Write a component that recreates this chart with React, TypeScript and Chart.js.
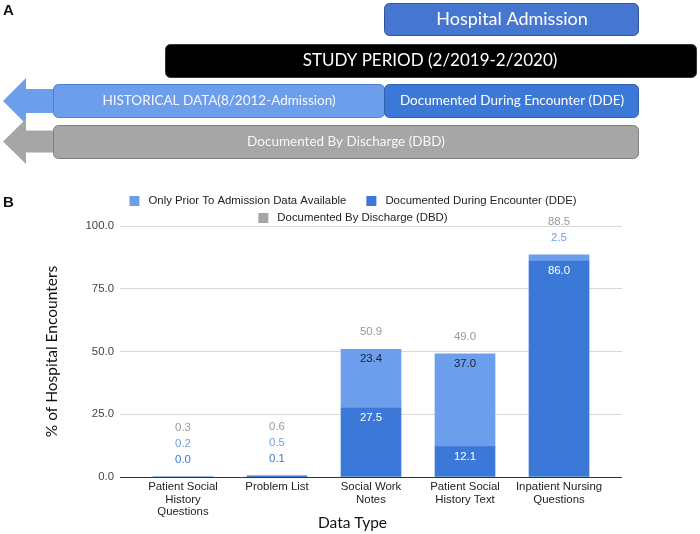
import { useEffect, useRef } from 'react';
import { Chart, registerables } from 'chart.js';

Chart.register(...registerables);

// ---------- data ----------
const categories: string[][] = [
  ['Patient Social', 'History', 'Questions'],
  ['Problem List'],
  ['Social Work', 'Notes'],
  ['Patient Social', 'History Text'],
  ['Inpatient Nursing', 'Questions'],
];
const ddeValues = [0.0, 0.1, 27.5, 12.1, 86.0];
const priorValues = [0.2, 0.5, 23.4, 37.0, 2.5];
const dbdValues = [0.3, 0.6, 50.9, 49.0, 88.5];
const yTickValues = [0, 25, 50, 75, 100];
const seriesNames = [
  'Only Prior To Admission Data Available',
  'Documented During Encounter (DDE)',
  'Documented By Discharge (DBD)',
];
const seriesColors = ['#6d9eeb', '#3c78d8', '#a5a5a5'];
const xAxisTitle = 'Data Type';
const yAxisTitle = '% of Hospital Encounters';

const GOOGLE_FONT = '"Liberation Sans", Arial, sans-serif';
const DIAGRAM_FONT = 'Lato, "Open Sans", sans-serif';
const SMALL = 11.4;

function roundBox(ctx: CanvasRenderingContext2D, x: number, y: number, w: number, h: number, r: number, fill: string, stroke: string) {
  ctx.beginPath();
  (ctx as any).roundRect(x, y, w, h, r);
  ctx.fillStyle = fill;
  ctx.fill();
  ctx.lineWidth = 1;
  ctx.strokeStyle = stroke;
  ctx.stroke();
}

function leftArrow(ctx: CanvasRenderingContext2D, tipX: number, cy: number, backX: number, headHalf: number, shaftHalf: number, shaftEnd: number, fill: string) {
  ctx.beginPath();
  ctx.moveTo(tipX, cy);
  ctx.lineTo(backX, cy - headHalf);
  ctx.lineTo(backX, cy - shaftHalf);
  ctx.lineTo(shaftEnd, cy - shaftHalf);
  ctx.lineTo(shaftEnd, cy + shaftHalf);
  ctx.lineTo(backX, cy + shaftHalf);
  ctx.lineTo(backX, cy + headHalf);
  ctx.closePath();
  ctx.fillStyle = fill;
  ctx.fill();
}

function centerText(ctx: CanvasRenderingContext2D, text: string, x: number, y: number, font: string, color: string) {
  ctx.font = font;
  ctx.fillStyle = color;
  ctx.textAlign = 'center';
  ctx.textBaseline = 'middle';
  ctx.fillText(text, x, y);
}

const panelAPlugin = {
  id: 'panelA',
  beforeDraw(chart: any) {
    const ctx: CanvasRenderingContext2D = chart.ctx;
    ctx.save();
    ctx.font = `bold 15px ${GOOGLE_FONT}`;
    ctx.fillStyle = '#111';
    ctx.textAlign = 'left';
    ctx.textBaseline = 'middle';
    ctx.fillText('A', 3, 11);
    ctx.fillText('B', 3, 203);

    roundBox(ctx, 384.5, 3.5, 254, 32, 5, '#4677d0', '#2f5597');
    centerText(ctx, 'Hospital Admission', 512, 19.5, `18px ${DIAGRAM_FONT}`, '#ffffff');

    roundBox(ctx, 165.5, 44.5, 531, 33, 5, '#000000', '#333333');
    centerText(ctx, 'STUDY PERIOD (2/2019-2/2020)', 430, 61, `17px ${DIAGRAM_FONT}`, '#ffffff');

    leftArrow(ctx, 3, 101, 26, 23, 12, 60, '#6d9eeb');
    roundBox(ctx, 53.5, 84.5, 331, 33, 5, '#6d9eeb', '#4f7fcf');
    centerText(ctx, 'HISTORICAL DATA(8/2012-Admission)', 219, 101, `13.5px ${DIAGRAM_FONT}`, '#f4f7fd');
    roundBox(ctx, 384.5, 84.5, 254, 33, 5, '#3c78d8', '#2f5fb0');
    centerText(ctx, 'Documented During Encounter (DDE)', 512, 101, `13.5px ${DIAGRAM_FONT}`, '#ffffff');

    leftArrow(ctx, 3, 141.5, 26, 22.5, 11, 60, '#a6a6a6');
    roundBox(ctx, 53.5, 125.5, 585, 33, 5, '#a6a6a6', '#7f7f7f');
    centerText(ctx, 'Documented By Discharge (DBD)', 346, 142, `13.5px ${DIAGRAM_FONT}`, '#f7f7f7');
    ctx.restore();
  },
};

const legendPlugin = {
  id: 'customLegend',
  afterDraw(chart: any) {
    const ctx: CanvasRenderingContext2D = chart.ctx;
    ctx.save();
    ctx.font = `${SMALL}px ${GOOGLE_FONT}`;
    ctx.textBaseline = 'middle';
    ctx.textAlign = 'left';
    const rows = [[0, 1], [2]];
    const rowY = [201, 218];
    const centerX = 353;
    const boxW = 10;
    const textGap = 9;
    const itemGap = 20;
    rows.forEach((row, r) => {
      const widths = row.map((i) => boxW + textGap + ctx.measureText(seriesNames[i]).width);
      const total = widths.reduce((a, b) => a + b, 0) + itemGap * (row.length - 1);
      let x = centerX - total / 2;
      row.forEach((i, k) => {
        ctx.fillStyle = seriesColors[i];
        ctx.fillRect(x, rowY[r] - 5, boxW, boxW);
        ctx.fillStyle = '#222222';
        ctx.fillText(seriesNames[i], x + boxW + textGap, rowY[r]);
        x += widths[k] + itemGap;
      });
    });
    // x axis title (centred as in the reference)
    centerText(ctx, xAxisTitle, 352.5, 523, `15.5px ${DIAGRAM_FONT}`, '#111111');
    ctx.restore();
  },
};

const labelPlugin = {
  id: 'stackLabels',
  afterDatasetsDraw(chart: any) {
    const ctx: CanvasRenderingContext2D = chart.ctx;
    const metaDDE = chart.getDatasetMeta(0);
    const metaPrior = chart.getDatasetMeta(1);
    ctx.save();
    ctx.font = `${SMALL}px ${GOOGLE_FONT}`;
    ctx.textAlign = 'center';
    ctx.textBaseline = 'middle';
    categories.forEach((_, i) => {
      const segs = [
        { el: metaDDE.data[i], value: ddeValues[i], inside: '#ffffff', outside: '#3c78d8' },
        { el: metaPrior.data[i], value: priorValues[i], inside: '#172238', outside: '#6d9eeb' },
      ];
      const top = Math.min(segs[0].el.y, segs[1].el.y);
      let cursor = top;
      let first = true;
      const stepOut = () => {
        cursor -= first ? 17 : 16;
        first = false;
        return cursor;
      };
      segs.forEach((s) => {
        const h = s.el.base - s.el.y;
        if (h >= 22) {
          ctx.fillStyle = s.inside;
          ctx.fillText(s.value.toFixed(1), s.el.x, s.el.y + 10);
        } else {
          const y = stepOut();
          ctx.fillStyle = s.outside;
          ctx.fillText(s.value.toFixed(1), s.el.x, y);
        }
      });
      const y = stepOut();
      ctx.fillStyle = '#999999';
      ctx.fillText(dbdValues[i].toFixed(1), segs[0].el.x, y);
    });
    ctx.restore();
  },
};

export default function App() {
  const canvasRef = useRef<HTMLCanvasElement | null>(null);

  useEffect(() => {
    document.body.style.margin = '0';
    const canvas = canvasRef.current;
    if (!canvas) return;
    const chart = new Chart(canvas, {
      type: 'bar',
      data: {
        datasets: [
          {
            label: seriesNames[1],
            data: ddeValues.map((v, i) => ({ x: i, y: v })),
            backgroundColor: seriesColors[1],
            barThickness: 60,
            borderWidth: 0,
          },
          {
            label: seriesNames[0],
            data: priorValues.map((v, i) => ({ x: i, y: v })),
            backgroundColor: seriesColors[0],
            barThickness: 60,
            borderWidth: 0,
          },
        ],
      },
      options: {
        responsive: false,
        animation: false,
        layout: { padding: { top: 226, right: 78, left: 0, bottom: 0 } },
        plugins: {
          legend: { display: false },
          tooltip: { enabled: false },
        },
        scales: {
          x: {
            type: 'linear',
            stacked: true,
            offset: false,
            min: -0.67,
            max: 4.67,
            grid: { display: false, drawTicks: false, offset: false },
            border: { display: false },
            afterFit: (s: any) => { s.height = 57; },
            ticks: {
              stepSize: 1,
              includeBounds: false,
              autoSkip: false,
              maxRotation: 0,
              padding: 4,
              color: '#222222',
              font: { family: GOOGLE_FONT, size: SMALL, lineHeight: 1.1 },
              callback: (v: any) => (Number.isInteger(v) && categories[v] ? categories[v] : ''),
            },
            title: { display: false, text: xAxisTitle },
          },
          y: {
            stacked: true,
            min: 0,
            max: 100,
            afterFit: (s: any) => { s.width = 120; },
            afterBuildTicks: (s: any) => { s.ticks = yTickValues.map((v) => ({ value: v })); },
            grid: {
              drawTicks: false,
              color: (c: any) => (c.tick && c.tick.value === 0 ? '#333333' : '#dadada'),
            },
            border: { display: false },
            ticks: {
              padding: 6,
              color: '#444444',
              font: { family: GOOGLE_FONT, size: SMALL },
              callback: (v: any) => Number(v).toFixed(1),
            },
            title: {
              display: true,
              text: yAxisTitle,
              color: '#111111',
              font: { family: DIAGRAM_FONT, size: 15.5 },
              padding: { top: 43, bottom: 0 },
            },
          },
        },
      } as any,
      plugins: [panelAPlugin, legendPlugin, labelPlugin],
    });
    return () => chart.destroy();
  }, []);

  return (
    <div style={{ width: 700, height: 534, background: '#ffffff' }}>
      <canvas ref={canvasRef} width={700} height={534} style={{ display: 'block' }} />
    </div>
  );
}
